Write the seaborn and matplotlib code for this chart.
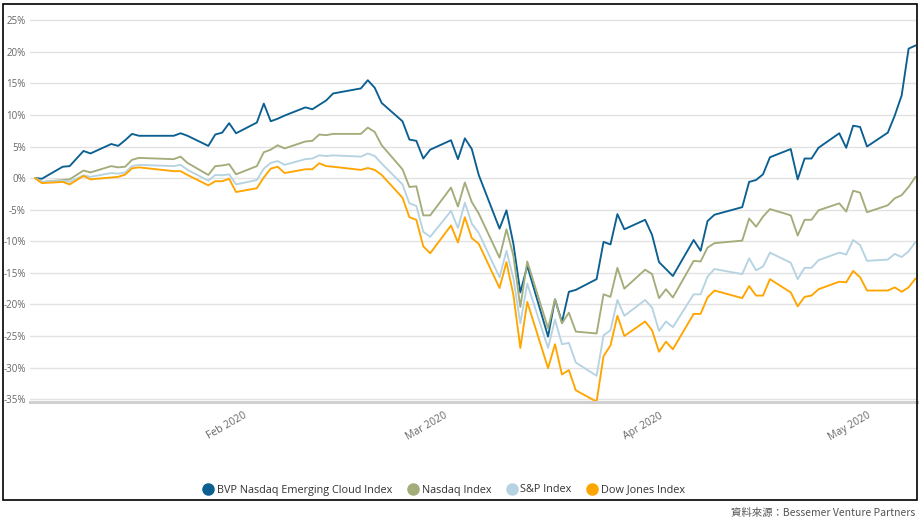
import matplotlib
matplotlib.use("Agg")
import matplotlib.pyplot as plt
import matplotlib.dates as mdates
from matplotlib.lines import Line2D
from matplotlib.patches import Rectangle
import pandas as pd
import seaborn as sns

# ---------------- data ----------------
dates = [
    "2020-01-02", "2020-01-03", "2020-01-06", "2020-01-07", "2020-01-09", "2020-01-10",
    "2020-01-13", "2020-01-14", "2020-01-15", "2020-01-16", "2020-01-17", "2020-01-22",
    "2020-01-23", "2020-01-24", "2020-01-27", "2020-01-28", "2020-01-29", "2020-01-30",
    "2020-01-31",
    "2020-02-03", "2020-02-04", "2020-02-05", "2020-02-06", "2020-02-07", "2020-02-10",
    "2020-02-11", "2020-02-12", "2020-02-13", "2020-02-14", "2020-02-18", "2020-02-19",
    "2020-02-20", "2020-02-21", "2020-02-24", "2020-02-25", "2020-02-26", "2020-02-27",
    "2020-02-28",
    "2020-03-02", "2020-03-03", "2020-03-04", "2020-03-05", "2020-03-06", "2020-03-09",
    "2020-03-10", "2020-03-11", "2020-03-12", "2020-03-13", "2020-03-16", "2020-03-17",
    "2020-03-18", "2020-03-19", "2020-03-20", "2020-03-23", "2020-03-24", "2020-03-25",
    "2020-03-26", "2020-03-27", "2020-03-30", "2020-03-31",
    "2020-04-01", "2020-04-02", "2020-04-03", "2020-04-06", "2020-04-07", "2020-04-08",
    "2020-04-09", "2020-04-13", "2020-04-14", "2020-04-15", "2020-04-16", "2020-04-17",
    "2020-04-20", "2020-04-21", "2020-04-22", "2020-04-23", "2020-04-24", "2020-04-27",
    "2020-04-28", "2020-04-29", "2020-04-30",
    "2020-05-01", "2020-05-04", "2020-05-05", "2020-05-06", "2020-05-07", "2020-05-08",
]

bvp = [
    0.0, -0.1, 1.8, 1.9, 4.3, 3.9, 5.4, 5.1, 6.0, 7.0, 6.7, 6.7, 7.1, 6.7, 5.1, 6.9, 7.2, 8.7, 7.1,
    8.8, 11.8, 9.0, 9.4, 9.9, 11.2, 10.9, 11.6, 12.3, 13.4, 14.2, 15.5, 14.3, 11.9, 9.0, 6.1, 5.9, 3.1, 4.5,
    6.0, 3.0, 6.3, 4.6, 0.5, -8.0, -5.1, -10.4, -18.1, -13.9, -25.1, -19.2, -22.8, -18.0, -17.7, -16.0,
    -10.1, -10.5, -5.7, -8.1, -6.6, -9.0,
    -13.3, -14.4, -15.5, -9.8, -11.5, -6.8, -5.8, -4.6, -0.6, -0.3, 0.6, 3.3, 4.6, -0.2, 3.1, 3.1, 4.8,
    7.1, 4.8, 8.3, 8.1,
    5.0, 7.2, 9.9, 13.1, 20.5, 21.0,
]

nasdaq = [
    0.0, -0.6, -0.3, -0.2, 1.2, 0.9, 1.9, 1.7, 1.8, 2.9, 3.2, 3.0, 3.4, 2.4, 0.5, 1.9, 2.0, 2.2, 0.6,
    1.9, 4.1, 4.5, 5.2, 4.7, 5.8, 5.9, 6.9, 6.8, 7.0, 7.0, 8.0, 7.3, 5.2, 1.4, -1.4, -1.3, -5.9, -5.9,
    -1.5, -4.5, -0.7, -3.8, -5.6, -12.6, -8.1, -12.3, -20.4, -13.2, -23.8, -19.2, -23.0, -21.3, -24.3, -24.6,
    -18.4, -18.8, -14.2, -17.5, -14.5, -15.2,
    -19.0, -17.6, -18.9, -13.1, -13.2, -11.0, -10.3, -9.9, -6.4, -7.7, -6.1, -4.9, -5.9, -9.1, -6.6, -6.6, -5.1,
    -4.0, -5.3, -2.0, -2.3,
    -5.4, -4.3, -3.2, -2.7, -1.4, 0.2,
]

sp500 = [
    0.0, -0.6, -0.4, -0.6, 0.45, 0.2, 0.8, 0.7, 0.9, 1.9, 2.1, 1.9, 2.1, 1.3, -0.4, 0.5, 0.45, 0.6, -1.0,
    -0.3, 1.5, 2.4, 2.7, 2.1, 3.0, 3.1, 3.6, 3.5, 3.6, 3.4, 3.9, 3.5, 2.3, -1.0, -4.0, -4.4, -8.5, -9.3,
    -5.2, -7.9, -3.9, -7.2, -8.7, -15.7, -11.5, -15.9, -23.0, -16.7, -26.9, -22.4, -26.3, -26.1, -29.2, -31.3,
    -24.9, -24.1, -19.3, -21.8, -19.3, -20.5,
    -24.2, -22.7, -23.6, -18.4, -18.4, -15.6, -14.4, -15.2, -12.7, -14.6, -14.0, -11.8, -13.4, -16.0, -14.2,
    -14.2, -13.0, -11.8, -12.1, -9.8, -10.6,
    -13.1, -12.9, -12.0, -12.5, -11.6, -10.1,
]

dow = [
    0.0, -0.8, -0.6, -1.0, 0.35, -0.2, 0.1, 0.2, 0.55, 1.55, 1.7, 1.1, 1.1, 0.5, -1.15, -0.5, -0.5, -0.1, -2.2,
    -1.6, 0.1, 1.5, 1.8, 0.8, 1.4, 1.4, 2.35, 1.9, 1.8, 1.3, 1.6, 1.3, 0.5, -3.1, -6.2, -6.6, -10.8, -11.9,
    -7.5, -10.2, -6.2, -9.5, -10.4, -17.4, -13.3, -18.5, -26.9, -19.6, -30.1, -26.3, -31.1, -30.4, -33.6, -35.4,
    -28.2, -26.5, -21.8, -25.0, -22.7, -24.1,
    -27.5, -25.9, -27.1, -21.5, -21.5, -18.9, -17.8, -19.0, -17.1, -18.6, -18.6, -16.0, -18.1, -20.3, -18.8,
    -18.6, -17.6, -16.4, -16.5, -14.7, -15.7,
    -17.8, -17.8, -17.3, -18.0, -17.3, -15.9,
]

series_names = ["BVP Nasdaq Emerging Cloud Index", "Nasdaq Index", "S&P Index", "Dow Jones Index"]
series_colors = ["#0b5f91", "#a3ad7a", "#b6d3e2", "#ffa500"]
y_ticks = [25, 20, 15, 10, 5, 0, -5, -10, -15, -20, -25, -30, -35]
x_tick_dates = ["2020-02-01", "2020-03-01", "2020-04-01", "2020-05-01"]
x_tick_labels = ["Feb 2020", "Mar 2020", "Apr 2020", "May 2020"]
source_text = "資料來源：Bessemer Venture Partners"

# ---------------- figure ----------------
sns.set_theme(style="white")
plt.rcParams["font.family"] = ["Open Sans", "Noto Sans CJK TC", "DejaVu Sans"]

wide = pd.DataFrame({"date": pd.to_datetime(dates),
                     series_names[0]: bvp, series_names[1]: nasdaq,
                     series_names[2]: sp500, series_names[3]: dow})
df = wide.melt(id_vars="date", var_name="series", value_name="value")

W, H = 924, 525
fig = plt.figure(figsize=(W / 100, H / 100), dpi=100)
fig.patch.set_facecolor("white")
ax = fig.add_axes([30 / W, 1 - 402 / H, (917 - 30) / W, (402 - 12) / H])

palette = dict(zip(series_names, series_colors))
sns.lineplot(data=df, x="date", y="value", hue="series", hue_order=series_names,
             palette=palette, linewidth=1.35, ax=ax, legend=False, estimator=None)

start = mdates.date2num(pd.Timestamp("2020-01-02")) - 0.72
end = mdates.date2num(pd.Timestamp("2020-05-01")) + 7.21
ax.set_xlim(start, end)
ax.set_ylim(-35.45, 26.3)

ax.set_yticks(y_ticks)
ax.set_yticklabels([f"{v}%" for v in y_ticks])
ax.tick_params(axis="y", length=0, pad=3, labelsize=7, labelcolor="#666666")
ax.yaxis.grid(True, color="#e2e2e2", linewidth=1)
ax.xaxis.grid(False)

ax.set_xticks(mdates.date2num(pd.to_datetime(x_tick_dates)))
ax.set_xticklabels(x_tick_labels, rotation=30, ha="right", rotation_mode="anchor")
ax.tick_params(axis="x", length=3, width=0.8, color="#cccccc", pad=3,
               labelsize=7.5, labelcolor="#666666")

for s in ["top", "right", "left"]:
    ax.spines[s].set_visible(False)
ax.spines["bottom"].set_color("#d0d0d0")
ax.spines["bottom"].set_linewidth(2.2)
ax.set_xlabel("")
ax.set_ylabel("")

# outer frame
fig.add_artist(Rectangle((3 / W, 1 - 500 / H), (917 - 3) / W, (500 - 4) / H,
                         transform=fig.transFigure, fill=False, edgecolor="black", linewidth=1.2))

handles = [Line2D([0], [0], marker="o", linestyle="none", markersize=8,
                  markerfacecolor=c, markeredgecolor=c) for c in series_colors]
fig.legend(handles, series_names, loc="center", bbox_to_anchor=(444 / W, 1 - 490 / H),
           ncol=4, frameon=False, fontsize=7.8, handletextpad=0.3, columnspacing=1.4,
           handlelength=1.0, labelcolor="#333333")

fig.text(915 / W, 1 - 513 / H, source_text, ha="right", va="center", fontsize=7.5,
         color="#555555", family=["Noto Sans CJK TC", "DejaVu Sans"])

fig.savefig("out.png", dpi=100)
